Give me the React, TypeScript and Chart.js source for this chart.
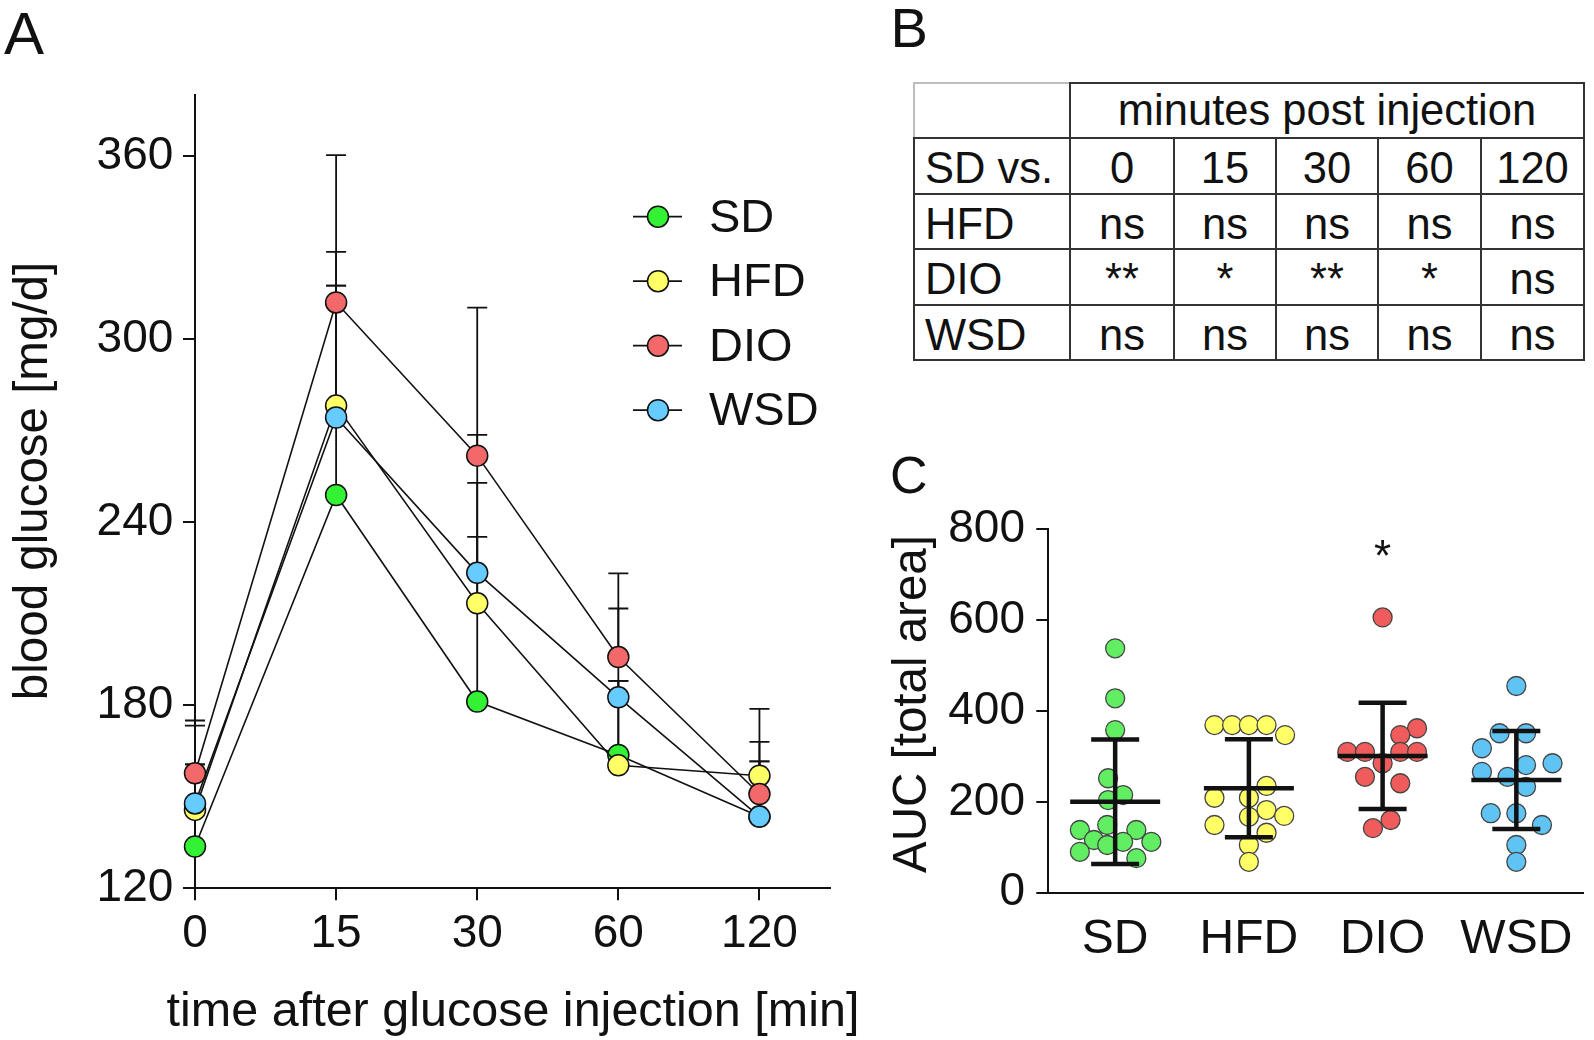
import React, { useEffect, useRef } from "react";
import { Chart, registerables } from "chart.js";

Chart.register(...registerables);

const FONT = '"Liberation Sans", Arial, Helvetica, sans-serif';
Chart.defaults.font.family = FONT;

// ---------- Panel A data ----------
const TIME_LABELS = ["0", "15", "30", "60", "120"];
const SERIES_NAMES = ["SD", "HFD", "DIO", "WSD"];
const SD_MEAN = [133.7, 248.9, 181.2, 163.7, 143.5];
const HFD_MEAN = [145.7, 278.2, 213.4, 160.3, 156.9];
const DIO_MEAN = [157.7, 312.0, 261.8, 195.8, 150.9];
const WSD_MEAN = [147.8, 274.3, 223.4, 182.6, 143.5];
const SD_UPPER = [175.0, 317.5, 235.2, 188.0, 161.6];
const HFD_UPPER = [173.3, 328.6, 252.9, 188.0, 178.8];
const DIO_UPPER = [160.6, 360.3, 310.3, 223.2, 168.0];
const WSD_UPPER = [160.6, 317.5, 268.6, 211.7, 161.6];
const A_Y_TICKS = [120, 180, 240, 300, 360];
const A_X_TITLE = "time after glucose injection [min]";
const A_Y_TITLE = "blood glucose [mg/d]";
const A_COLORS = ["#33f233", "#ffff66", "#f36868", "#66ccff"];

// ---------- Panel B data ----------
const TABLE_HEADER = "minutes post injection";
const TABLE_CORNER = "SD vs.";
const TABLE_COLS = ["0", "15", "30", "60", "120"];
const TABLE_ROWS = ["HFD", "DIO", "WSD"];
const TABLE_HFD = ["ns", "ns", "ns", "ns", "ns"];
const TABLE_DIO = ["**", "*", "**", "*", "ns"];
const TABLE_WSD = ["ns", "ns", "ns", "ns", "ns"];

// ---------- Panel C data ----------
const AUC_GROUPS = ["SD", "HFD", "DIO", "WSD"];
const AUC_SD = [538, 428, 358, 252, 204, 215, 149, 138, 138, 116, 105, 112, 112, 90, 76];
const AUC_SD_COL = [0, 0, 0, -0.4, -0.4, 0.45, -0.45, -2, 1.2, -1.2, -0.45, 0.45, 2.05, -2, 1.2];
const AUC_HFD = [369, 369, 369, 369, 347, 235, 209, 209, 182, 167, 169, 149, 132, 105, 68];
const AUC_HFD_COL = [-1.95, -0.95, 0, 1, 2.05, 1, -1.95, 0, 1, 0, 2, -1.95, 1, 0, 0];
const AUC_DIO = [606, 362, 347, 310, 310, 310, 310, 285, 255, 241, 160, 142];
const AUC_DIO_COL = [0, 1.95, 1, -2, -1, 1, 1.95, 0, -1, 1, 0.45, -0.55];
const AUC_WSD = [455, 351, 351, 318, 285, 281, 266, 255, 233, 175, 175, 149, 105, 68];
const AUC_WSD_COL = [0, -0.95, 0.55, -1.95, 2.05, 0.55, -1.95, -0.5, 0.55, -1.45, 0, 1.45, 0, 0];
const AUC_MEAN = [200, 230, 301, 248];
const AUC_SDEV = [137, 108, 117, 108];
const AUC_SIG = ["", "", "*", ""];
const AUC_SIG_VALUE = 765;
const AUC_Y_TICKS = [0, 200, 400, 600, 800];
const C_Y_TITLE = "AUC [total area]";
const C_COLORS = ["#62ee62", "#ffff66", "#f05c5c", "#5fc4f4"];

const INK = "#111";
const TITLE_SIZE = 47.5;
const A_W = 876;

function drawRotatedTitle(ctx: any, text: string, x: number, y: number) {
  ctx.save();
  ctx.translate(x, y);
  ctx.rotate(-Math.PI / 2);
  ctx.fillStyle = INK;
  ctx.font = `${TITLE_SIZE}px ${FONT}`;
  ctx.textAlign = "center";
  ctx.textBaseline = "middle";
  ctx.fillText(text, 0, 0);
  ctx.restore();
}

function PanelA() {
  const ref = useRef<HTMLCanvasElement | null>(null);
  useEffect(() => {
    const means = [SD_MEAN, HFD_MEAN, DIO_MEAN, WSD_MEAN];
    const uppers = [SD_UPPER, HFD_UPPER, DIO_UPPER, WSD_UPPER];

    const errorBars = {
      id: "errorBars",
      beforeDatasetsDraw(chart: any) {
        const { ctx, scales } = chart;
        ctx.save();
        ctx.strokeStyle = INK;
        ctx.lineWidth = 1.8;
        means.forEach((m, si) => {
          m.forEach((v, i) => {
            const x = scales.x.getPixelForValue(i);
            const y0 = scales.y.getPixelForValue(v);
            const y1 = scales.y.getPixelForValue(uppers[si][i]);
            ctx.beginPath();
            ctx.moveTo(x, y0);
            ctx.lineTo(x, y1);
            ctx.moveTo(x - 10, y1);
            ctx.lineTo(x + 10, y1);
            ctx.stroke();
          });
        });
        ctx.restore();
      },
    };

    const decorations = {
      id: "legendA",
      afterDraw(chart: any) {
        const { ctx, chartArea } = chart;
        ctx.save();
        SERIES_NAMES.forEach((name, i) => {
          const y = 216.7 + i * 64.5;
          ctx.strokeStyle = INK;
          ctx.lineWidth = 1.8;
          ctx.beginPath();
          ctx.moveTo(633, y);
          ctx.lineTo(682, y);
          ctx.stroke();
          ctx.beginPath();
          ctx.arc(658, y, 10.5, 0, Math.PI * 2);
          ctx.fillStyle = A_COLORS[i];
          ctx.fill();
          ctx.lineWidth = 1.5;
          ctx.stroke();
          ctx.fillStyle = INK;
          ctx.font = `47px ${FONT}`;
          ctx.textAlign = "left";
          ctx.textBaseline = "middle";
          ctx.fillText(name, 709, y + 2);
        });
        // x axis title
        ctx.fillStyle = INK;
        ctx.font = `48.5px ${FONT}`;
        ctx.textAlign = "center";
        ctx.textBaseline = "middle";
        ctx.fillText(A_X_TITLE, (chartArea.left + chartArea.right) / 2 + 0.5, 1013);
        ctx.restore();
        drawRotatedTitle(ctx, A_Y_TITLE, 34.3, 481);
      },
    };

    const datasets = means.map((m, si) => ({
      label: SERIES_NAMES[si],
      data: m.map((v, i) => ({ x: i, y: v })),
      borderColor: INK,
      borderWidth: 1.6,
      pointBackgroundColor: A_COLORS[si],
      pointBorderColor: INK,
      pointBorderWidth: 1.5,
      pointRadius: 10.5,
      pointHoverRadius: 10.5,
      fill: false,
      tension: 0,
      clip: false,
      order: 4 - si,
    }));

    const chart = new Chart(ref.current as HTMLCanvasElement, {
      type: "line",
      data: { datasets } as any,
      options: {
        animation: false,
        responsive: false,
        events: [],
        layout: { padding: { left: 0, top: 95, right: A_W - 830, bottom: 0 } },
        plugins: { legend: { display: false }, tooltip: { enabled: false } },
        scales: {
          x: {
            type: "linear",
            min: 0,
            max: 4.5,
            afterBuildTicks: (s: any) => {
              s.ticks = TIME_LABELS.map((_, i) => ({ value: i }));
            },
            afterFit: (s: any) => {
              s.height = 1040 - 888.3;
            },
            ticks: {
              color: INK,
              font: { size: 46 },
              padding: 6,
              maxRotation: 0,
              autoSkip: false,
              callback: (v: any) => TIME_LABELS[v],
            },
            grid: { drawOnChartArea: false, drawTicks: true, tickLength: 12, color: INK, lineWidth: 2 },
            border: { display: true, color: INK, width: 2 },
          },
          y: {
            type: "linear",
            min: 120,
            max: 380,
            afterBuildTicks: (s: any) => {
              s.ticks = A_Y_TICKS.map((v) => ({ value: v }));
            },
            afterFit: (s: any) => {
              s.width = 195;
            },
            ticks: { color: INK, font: { size: 46 }, padding: 9.7 },
            grid: { drawOnChartArea: false, drawTicks: true, tickLength: 12, color: INK, lineWidth: 2 },
            border: { display: true, color: INK, width: 2 },
          },
        },
      } as any,
      plugins: [errorBars, decorations],
    });
    return () => chart.destroy();
  }, []);
  return (
    <canvas
      ref={ref}
      width={A_W}
      height={1040}
      style={{ position: "absolute", left: 0, top: 0, width: A_W, height: 1040 }}
    />
  );
}

function PanelC() {
  const ref = useRef<HTMLCanvasElement | null>(null);
  useEffect(() => {
    const values = [AUC_SD, AUC_HFD, AUC_DIO, AUC_WSD];
    const cols = [AUC_SD_COL, AUC_HFD_COL, AUC_DIO_COL, AUC_WSD_COL];
    const JITTER = 0.132;

    const summary = {
      id: "meanSd",
      afterDatasetsDraw(chart: any) {
        const { ctx, scales } = chart;
        ctx.save();
        ctx.strokeStyle = INK;
        ctx.lineWidth = 4.5;
        ctx.lineCap = "butt";
        AUC_MEAN.forEach((m, i) => {
          const x = scales.x.getPixelForValue(i + 1);
          const ym = scales.y.getPixelForValue(m);
          const yu = scales.y.getPixelForValue(m + AUC_SDEV[i]);
          const yl = scales.y.getPixelForValue(m - AUC_SDEV[i]);
          ctx.beginPath();
          ctx.moveTo(x - 45, ym);
          ctx.lineTo(x + 45, ym);
          ctx.moveTo(x, yu);
          ctx.lineTo(x, yl);
          ctx.moveTo(x - 24, yu);
          ctx.lineTo(x + 24, yu);
          ctx.moveTo(x - 24, yl);
          ctx.lineTo(x + 24, yl);
          ctx.stroke();
        });
        ctx.fillStyle = INK;
        ctx.font = `44px ${FONT}`;
        ctx.textAlign = "center";
        ctx.textBaseline = "alphabetic";
        AUC_SIG.forEach((s, i) => {
          if (!s) return;
          const x = scales.x.getPixelForValue(i + 1);
          const y = scales.y.getPixelForValue(AUC_SIG_VALUE);
          ctx.fillText(s, x, y + 0.58 * 44);
        });
        ctx.restore();
      },
      afterDraw(chart: any) {
        drawRotatedTitle(chart.ctx, C_Y_TITLE, 32.7, 264);
      },
    };

    const datasets = values.map((vals, gi) => ({
      label: AUC_GROUPS[gi],
      data: vals.map((v, k) => ({ x: gi + 1 + cols[gi][k] * JITTER, y: v })),
      backgroundColor: C_COLORS[gi],
      borderColor: "#444",
      borderWidth: 1.3,
      pointRadius: 9.5,
      pointHoverRadius: 9.5,
      showLine: false,
      clip: false,
    }));

    const chart = new Chart(ref.current as HTMLCanvasElement, {
      type: "scatter",
      data: { datasets } as any,
      options: {
        animation: false,
        responsive: false,
        events: [],
        layout: { padding: { left: 0, top: 89.3, right: 0, bottom: 0 } },
        plugins: { legend: { display: false }, tooltip: { enabled: false } },
        scales: {
          x: {
            type: "linear",
            min: 0.5,
            max: 4.5,
            afterBuildTicks: (s: any) => {
              s.ticks = AUC_GROUPS.map((_, i) => ({ value: i + 1 }));
            },
            afterFit: (s: any) => {
              s.height = 600 - 452.7;
            },
            ticks: {
              color: INK,
              font: { size: 48 },
              padding: 18.3,
              maxRotation: 0,
              autoSkip: false,
              callback: (v: any) => AUC_GROUPS[v - 1],
            },
            grid: { drawOnChartArea: false, drawTicks: false, tickLength: 0 },
            border: { display: true, color: INK, width: 2 },
          },
          y: {
            type: "linear",
            min: 0,
            max: 800,
            afterBuildTicks: (s: any) => {
              s.ticks = AUC_Y_TICKS.map((v) => ({ value: v }));
            },
            afterFit: (s: any) => {
              s.width = 168.3;
            },
            ticks: { color: INK, font: { size: 46 }, padding: 11.3 },
            grid: { drawOnChartArea: false, drawTicks: true, tickLength: 12, color: INK, lineWidth: 2 },
            border: { display: true, color: INK, width: 2 },
          },
        },
      } as any,
      plugins: [summary],
    });
    return () => chart.destroy();
  }, []);
  return (
    <canvas
      ref={ref}
      width={714}
      height={600}
      style={{ position: "absolute", left: 880, top: 440, width: 714, height: 600 }}
    />
  );
}

function TableB() {
  const X = [914, 1070, 1174, 1276, 1378, 1481, 1584];
  const Y = [83, 137.5, 193.5, 249.3, 305, 360];
  const DARK = "#333";
  const LIGHT = "#bdbdbd";
  const T = 2;
  const fs = 43.5;
  const lines: any[] = [];
  const hline = (x1: number, x2: number, y: number, c: string, k: string) =>
    lines.push(<div key={k} style={{ position: "absolute", left: x1 - T / 2, top: y - T / 2, width: x2 - x1 + T, height: T, background: c }} />);
  const vline = (x: number, y1: number, y2: number, c: string, k: string) =>
    lines.push(<div key={k} style={{ position: "absolute", left: x - T / 2, top: y1 - T / 2, width: T, height: y2 - y1 + T, background: c }} />);

  hline(X[0], X[1], Y[0], LIGHT, "h0a");
  hline(X[1], X[6], Y[0], DARK, "h0b");
  for (let r = 1; r < Y.length; r++) hline(X[0], X[6], Y[r], DARK, "h" + r);
  vline(X[0], Y[0], Y[1], LIGHT, "v0a");
  vline(X[0], Y[1], Y[5], DARK, "v0b");
  vline(X[1], Y[0], Y[5], DARK, "v1");
  for (let c = 2; c < 6; c++) vline(X[c], Y[1], Y[5], DARK, "v" + c);
  vline(X[6], Y[0], Y[5], DARK, "v6");

  const cells: any[] = [];
  const cell = (x1: number, x2: number, y1: number, y2: number, text: string, align: "left" | "center", k: string, dy = 0) =>
    cells.push(
      <div
        key={k}
        style={{
          position: "absolute",
          left: x1 + (align === "left" ? 11 : 0),
          top: y1 + dy,
          width: x2 - x1 - (align === "left" ? 11 : 0),
          height: y2 - y1,
          lineHeight: `${y2 - y1}px`,
          fontSize: fs,
          textAlign: align,
          whiteSpace: "nowrap",
          color: INK,
        }}
      >
        {text}
      </div>
    );
  cell(X[1], X[6], Y[0], Y[1], TABLE_HEADER, "center", "hdr");
  cell(X[0], X[1], Y[1], Y[2], TABLE_CORNER, "left", "corner", 2.5);
  TABLE_COLS.forEach((c, i) => cell(X[i + 1], X[i + 2], Y[1], Y[2], c, "center", "col" + i, 2.5));
  const rowsData = [TABLE_HFD, TABLE_DIO, TABLE_WSD];
  TABLE_ROWS.forEach((r, ri) => {
    cell(X[0], X[1], Y[ri + 2], Y[ri + 3], r, "left", "rl" + ri, 3);
    rowsData[ri].forEach((v, ci) => cell(X[ci + 1], X[ci + 2], Y[ri + 2], Y[ri + 3], v, "center", `c${ri}_${ci}`, 3));
  });
  return (
    <>
      {cells}
      {lines}
    </>
  );
}

function PanelLabel({ text, left, top, size }: { text: string; left: number; top: number; size: number }) {
  return (
    <div style={{ position: "absolute", left, top, fontSize: size, lineHeight: `${size}px`, color: INK }}>{text}</div>
  );
}

export default function App() {
  useEffect(() => {
    document.body.style.margin = "0";
    document.body.style.background = "#fff";
  }, []);
  return (
    <div
      style={{
        position: "absolute",
        left: 0,
        top: 0,
        width: 1594,
        height: 1040,
        background: "#fff",
        fontFamily: FONT,
        overflow: "hidden",
      }}
    >
      <PanelA />
      <TableB />
      <PanelC />
      <PanelLabel text="A" left={4} top={3.7} size={60} />
      <PanelLabel text="B" left={890.5} top={-0.5} size={56} />
      <PanelLabel text="C" left={890} top={449} size={52} />
    </div>
  );
}
